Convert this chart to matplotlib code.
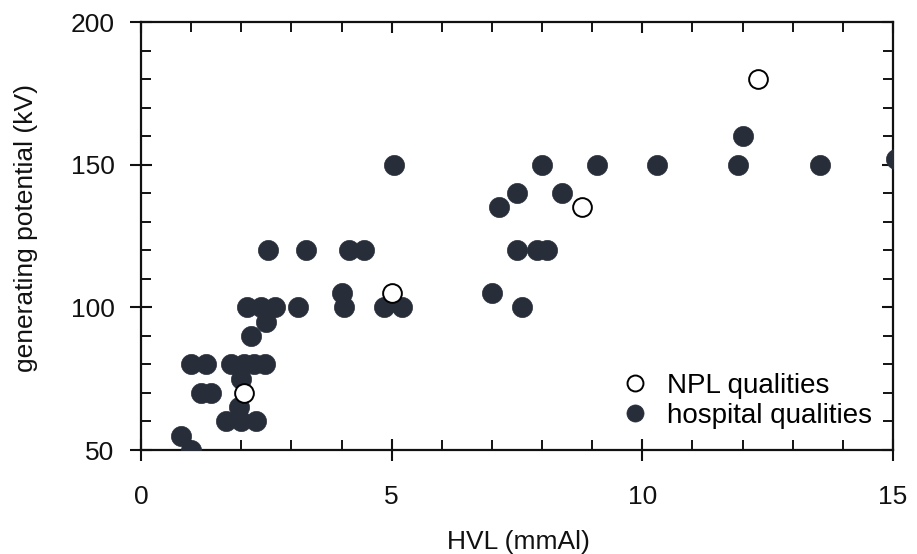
import matplotlib
matplotlib.use("Agg")
import matplotlib.pyplot as plt
from matplotlib.ticker import MultipleLocator

plt.rcParams['font.family'] = ['Liberation Sans', 'DejaVu Sans']

# Data
hosp_hvl = [0.8, 1.0, 1.0, 1.3, 1.8, 2.05, 2.25, 2.47, 1.2, 1.4, 2.0, 1.95,
            1.7, 2.0, 2.3, 2.2, 2.5, 2.12, 2.4, 2.67, 3.13, 2.53, 3.3, 4.15, 4.45,
            4.0, 4.05, 4.85, 5.2, 5.05,
            7.0, 7.6, 7.5, 7.9, 8.1, 7.15, 7.5, 8.4, 8.0, 9.1, 10.3, 11.9, 12.0,
            13.55, 15.05]
hosp_kv = [55, 50, 80, 80, 80, 80, 80, 80, 70, 70, 75, 65,
           60, 60, 60, 90, 95, 100, 100, 100, 100, 120, 120, 120, 120,
           105, 100, 100, 100, 150,
           105, 100, 120, 120, 120, 135, 140, 140, 150, 150, 150, 150, 160,
           150, 152]
npl_hvl = [2.05, 5.0, 8.8, 12.3]
npl_kv = [70, 105, 135, 180]

legend_labels = ["NPL qualities", "hospital qualities"]

fig = plt.figure(figsize=(9.17, 5.54), dpi=100)
ax = fig.add_axes([141/917, 1-450/554, (893-141)/917, (450-22)/554])

dark = '#272e3a'
ax.plot(hosp_hvl, hosp_kv, 'o', ms=14.5, mfc=dark, mec=dark, mew=0.5,
        label=legend_labels[1], zorder=3)
ax.plot(npl_hvl, npl_kv, 'o', ms=13.5, mfc='white', mec='black', mew=1.4,
        label=legend_labels[0], zorder=4)

ax.set_xlim(0, 15)
ax.set_ylim(50, 200)
ax.xaxis.set_major_locator(MultipleLocator(5))
ax.xaxis.set_minor_locator(MultipleLocator(1))
ax.yaxis.set_major_locator(MultipleLocator(50))
ax.yaxis.set_minor_locator(MultipleLocator(10))

for s in ax.spines.values():
    s.set_linewidth(1.6)
    s.set_color('#111111')

ax.tick_params(which='major', direction='inout', length=16, width=1.5,
               labelsize=19, colors='#111111', top=True, right=True)
ax.tick_params(which='minor', direction='in', length=7, width=1.3,
               top=True, right=True)
ax.tick_params(axis='x', which='major', pad=17)
ax.tick_params(axis='y', which='major', pad=11)
# top/right ticks inward only
for t in ax.xaxis.get_major_ticks():
    t.tick2line.set_marker(3)  # TICKDOWN
    t.tick2line.set_markersize(8)
for t in ax.yaxis.get_major_ticks():
    t.tick2line.set_marker(0)  # TICKLEFT
    t.tick2line.set_markersize(8)

ax.set_xlabel("HVL (mmAl)", fontsize=19, color='#111111')
ax.set_ylabel("generating potential (kV)", fontsize=19, color='#111111')
ax.xaxis.set_label_coords((518-141)/752, (450-530)/428)
ax.yaxis.set_label_coords((38-141)/752, (450-228)/428)

h, l = ax.get_legend_handles_labels()
leg = ax.legend([h[1], h[0]], [l[1], l[0]], loc='upper left',
                bbox_to_anchor=((624-141)/752, (450-373)/428),
                frameon=False, fontsize=20, markerscale=0.85,
                handlelength=0.8, handletextpad=0.75, borderpad=0,
                borderaxespad=0, labelspacing=0.15)

fig.savefig("out.png", dpi=100)
